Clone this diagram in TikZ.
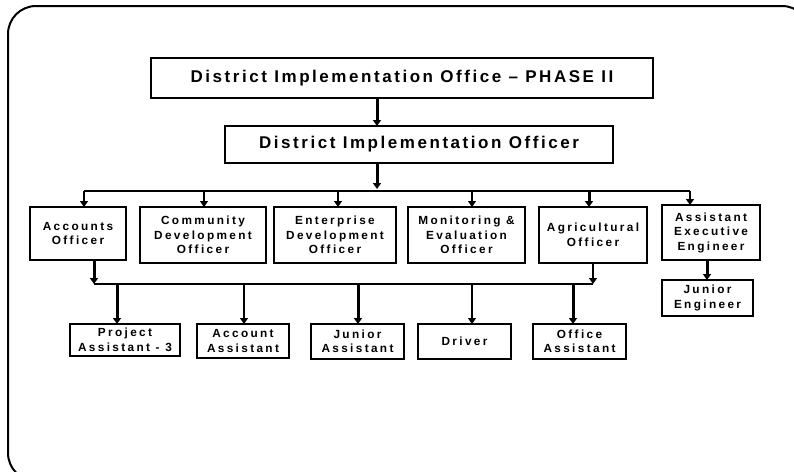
\documentclass[tikz,border=0pt]{standalone}
\usepackage{fontspec}
\usetikzlibrary{arrows.meta}
\newfontfamily\boxfont[LetterSpace=20]{Liberation Sans}
\newfontfamily\titlefont[LetterSpace=15]{Liberation Sans}
\begin{document}
\begin{tikzpicture}[x=1pt,y=-1pt,
  box/.style={draw, line width=2.4pt, inner sep=0pt, outer sep=0pt, align=center,
    font=\boxfont\bfseries\fontsize{11.8}{14.5}\selectfont},
  tbox/.style={box, font=\titlefont\bfseries\fontsize{17}{20}\selectfont},
  thinarr/.style={line width=1.1pt, -{Triangle[width=8pt 0 0,length=6pt 0 0]}},
  thickarr/.style={line width=3pt, -{Triangle[width=8pt 0 0,length=6pt 0 0]}},
  busline/.style={line width=1.1pt}]
\useasboundingbox (0,0) rectangle (794,471);
\begin{scope}
\clip (0,0) rectangle (794,471);
\draw[line width=2pt, rounded corners=28pt] (8,6) rectangle (810,481);
\end{scope}

% nodes
\node[tbox, minimum width=502pt, minimum height=40pt] (top) at (402,78) {District Implementation Office {\fontspec{Liberation Sans}\bfseries\textendash} PHASE II};
\node[tbox, minimum width=388pt, minimum height=37pt] (dio) at (419,144.5) {District Implementation Officer};

\node[box, minimum width=96pt, minimum height=53pt] (acc) at (78,233.5) {Accounts\\Officer};
\node[box, minimum width=126pt, minimum height=56pt] (cdo) at (203,235) {Community\\Development\\Officer};
\node[box, minimum width=122pt, minimum height=56pt] (edo) at (335,235) {Enterprise\\Development\\Officer};
\node[box, minimum width=117pt, minimum height=56pt] (meo) at (466.5,235) {Monitoring \&\\Evaluation\\Officer};
\node[box, minimum width=108pt, minimum height=56pt] (ago) at (593,235) {Agricultural\\Officer};
\node[box, minimum width=98pt, minimum height=55pt] (aee) at (711,232.5) {Assistant\\Executive\\Engineer};
\node[box, minimum width=91pt, minimum height=36pt] (je) at (707.5,298) {Junior\\Engineer};

\node[box, minimum width=110pt, minimum height=32pt] (pa) at (125,340) {Project\\Assistant - 3};
\node[box, minimum width=92pt, minimum height=34pt] (aa) at (243,341) {Account\\Assistant};
\node[box, minimum width=93pt, minimum height=35pt] (ja) at (357.5,341.5) {Junior\\Assistant};
\node[box, minimum width=93pt, minimum height=35pt] (dr) at (464.5,341.5) {Driver};
\node[box, minimum width=93pt, minimum height=35pt] (oa) at (579.5,341.5) {Office\\Assistant};

% coordinates
\coordinate (ax) at (377,0);
\coordinate (b1end) at (377,189);
\coordinate (b1L) at (84,191);
\coordinate (b1R) at (690,191);
\coordinate (c2) at (204,191);
\coordinate (c3) at (338,191);
\coordinate (c4) at (472,191);
\coordinate (c5) at (589,191);
\coordinate (b2L) at (94,284);
\coordinate (b2R) at (593,284);
\coordinate (d1) at (117,284);
\coordinate (d2) at (244,284);
\coordinate (d3) at (358,284);
\coordinate (d4) at (472,284);
\coordinate (d5) at (573,284);
\coordinate (jx) at (707,0);

% connectors
\draw[thickarr] (top.south -| ax) -- (dio.north -| ax);
\draw[thickarr] (dio.south -| ax) -- (b1end);
\draw[busline] (b1L) -- (b1R);
\draw[thickarr, line width=2pt] (b1L) -- (acc.north -| b1L);
\draw[thinarr] (c2) -- (cdo.north -| c2);
\draw[thinarr] (c3) -- (edo.north -| c3);
\draw[thinarr] (c4) -- (meo.north -| c4);
\draw[thickarr] (c5) -- (ago.north -| c5);
\draw[thickarr, line width=2pt] (b1R) -- (aee.north -| b1R);

\draw[thickarr] (acc.south -| b2L) -- (b2L);
\draw[thinarr] (ago.south -| b2R) -- (b2R);
\draw[busline] (b2L) -- (b2R);
\draw[thickarr] (d1) -- (pa.north -| d1);
\draw[thinarr] (d2) -- (aa.north -| d2);
\draw[thickarr] (d3) -- (ja.north -| d3);
\draw[thinarr] (d4) -- (dr.north -| d4);
\draw[thickarr] (d5) -- (oa.north -| d5);

\draw[thickarr] (aee.south -| jx) -- (je.north -| jx);
\end{tikzpicture}
\end{document}
